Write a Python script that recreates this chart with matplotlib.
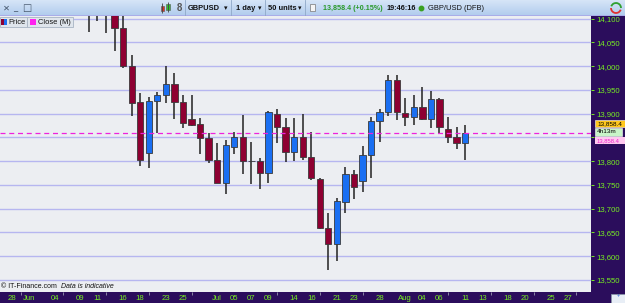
import numpy as np
import pandas as pd
import matplotlib
matplotlib.use('Agg')
import matplotlib.pyplot as plt
from matplotlib.patches import Rectangle, Arc
from matplotlib.ticker import FuncFormatter

plt.rcParams['font.family'] = ['Liberation Sans', 'DejaVu Sans']

# daily candles GBP/USD (DFB), price x10000
dates = ['2021-06-10', '2021-06-11', '2021-06-14', '2021-06-15', '2021-06-16', '2021-06-17',
         '2021-06-18', '2021-06-21', '2021-06-22', '2021-06-23', '2021-06-24', '2021-06-25',
         '2021-06-28', '2021-06-29', '2021-06-30', '2021-07-01', '2021-07-02', '2021-07-05',
         '2021-07-06', '2021-07-07', '2021-07-08', '2021-07-09', '2021-07-12', '2021-07-13',
         '2021-07-14', '2021-07-15', '2021-07-16', '2021-07-19', '2021-07-20', '2021-07-21',
         '2021-07-22', '2021-07-23', '2021-07-26', '2021-07-27', '2021-07-28', '2021-07-29',
         '2021-07-30', '2021-08-02', '2021-08-03', '2021-08-04', '2021-08-05', '2021-08-06',
         '2021-08-09', '2021-08-10', '2021-08-11']
opens = [14185, 14170, 14150, 14130, 14080, 14000, 13925, 13817, 13927, 13939, 13963, 13925,
         13889, 13878, 13849, 13802, 13754, 13830, 13851, 13801, 13800, 13775, 13899, 13872,
         13819, 13851, 13809, 13763, 13659, 13626, 13714, 13773, 13758, 13813, 13885, 13904,
         13971, 13902, 13893, 13914, 13889, 13931, 13868, 13851, 13838]
highs = [14200, 14190, 14175, 14140, 14112, 14024, 13944, 13935, 13946, 14000, 13986, 13939,
         13939, 13891, 13859, 13838, 13845, 13861, 13897, 13840, 13807, 13906, 13910, 13891,
         13891, 13900, 13862, 13765, 13691, 13723, 13788, 13782, 13832, 13893, 13910, 13982,
         13982, 13933, 13939, 13956, 13948, 13933, 13893, 13872, 13876]
lows = [14072, 14095, 14070, 14032, 13996, 13895, 13790, 13786, 13859, 13923, 13889, 13870,
        13874, 13815, 13796, 13754, 13731, 13815, 13773, 13752, 13742, 13754, 13839, 13798,
        13800, 13803, 13760, 13657, 13571, 13590, 13691, 13721, 13735, 13765, 13840, 13895,
        13887, 13874, 13876, 13887, 13870, 13859, 13838, 13826, 13803]
closes = [14175, 14150, 14135, 14080, 14000, 13923, 13803, 13927, 13939, 13963, 13925, 13880,
          13876, 13849, 13802, 13754, 13834, 13851, 13800, 13800, 13775, 13904, 13872, 13819,
          13851, 13809, 13765, 13659, 13626, 13716, 13773, 13746, 13813, 13885, 13904, 13971,
          13904, 13893, 13914, 13889, 13931, 13872, 13851, 13838, 13858.4]
last_close = 13858.4

tick_dates = ['2021-05-28', '2021-06-01', '2021-06-04', '2021-06-09', '2021-06-11', '2021-06-16',
              '2021-06-18', '2021-06-23', '2021-06-25', '2021-07-01', '2021-07-05', '2021-07-07',
              '2021-07-09', '2021-07-14', '2021-07-16', '2021-07-21', '2021-07-23', '2021-07-28',
              '2021-08-02', '2021-08-04', '2021-08-06', '2021-08-11', '2021-08-13', '2021-08-18',
              '2021-08-20', '2021-08-25', '2021-08-27']
tick_labels = ['28', 'Jun', '04', '09', '11', '16', '18', '23', '25', 'Jul', '05', '07', '09',
               '14', '16', '21', '23', '28', 'Aug', '04', '06', '11', '13', '18', '20', '25', '27']
y_ticks = np.arange(13550, 14101, 50)
hidden_tick = 13850  # covered by the last-price boxes

# colours
purple = '#2b0d5c'
green_txt = '#77ee22'
red_c = '#8e0032'
blue_c = '#1a6ff2'

# trading-day axis (weekends removed)
days = pd.bdate_range('2021-05-28', '2021-08-31')
pos = days.get_indexer(pd.to_datetime(dates))
tpos = days.get_indexer(pd.to_datetime(tick_dates))
mondays = [i for i, d in enumerate(days) if d.dayofweek == 0]

o = np.array(opens, float)
h = np.array(highs, float)
l = np.array(lows, float)
c = np.array(closes, float)
up = c >= o
cols = np.where(up, blue_c, red_c)

W, H = 625, 303
fig = plt.figure(figsize=(6.25, 3.03), dpi=100)
fig.patch.set_facecolor(purple)

# main chart
ax = fig.add_axes([0, 1 - 292 / H, 591 / W, 276 / H])
ax.set_facecolor('#eceef2')
for s in ax.spines.values():
    s.set_visible(False)
ax.set_xlim(-1.40, 67.72)
ax.set_ylim(13524.7, 14105.7)
for yv in y_ticks:
    ax.axhline(yv, color='#b6b6f0', lw=1.0, zorder=1)

ax.vlines(pos, l, h, color='#222222', lw=1.1, zorder=2)
ax.bar(pos, np.maximum(np.abs(c - o), 0.8), bottom=np.minimum(o, c), width=0.74,
       color=cols, edgecolor='#3a3a3a', linewidth=0.6, zorder=3)
ax.axhline(last_close, color='#ee22dd', lw=0.9, ls=(0, (4, 3)), zorder=4)

ax.yaxis.tick_right()
ax.set_yticks(y_ticks)
ax.yaxis.set_major_formatter(
    FuncFormatter(lambda v, p: '' if abs(v - hidden_tick) < 1 else f'{v:,.0f}'))
ax.tick_params(axis='y', colors=green_txt, labelcolor=green_txt, labelsize=5.6,
               length=2.5, width=0.7, pad=1.5)
ax.set_xticks(tpos)
ax.set_xticklabels(tick_labels)
ax.set_xticks(mondays, minor=True)
ax.tick_params(axis='x', which='major', colors=green_txt, labelcolor=green_txt,
               labelsize=5.6, length=0, pad=1.8)
ax.tick_params(axis='x', which='minor', colors='#9a9ab0', length=2, width=0.6)

ax.text(0.002, 0.008, '© IT-Finance.com', transform=ax.transAxes, fontsize=5,
        color='#111111', va='bottom', ha='left')
ax.text(0.103, 0.008, 'Data is indicative', transform=ax.transAxes, fontsize=5,
        style='italic', color='#111111', va='bottom', ha='left')

# toolbar
tb = fig.add_axes([0, 1 - 16 / H, 1, 16 / H])
grad = np.linspace(0, 1, 32).reshape(-1, 1)
tb.imshow(grad, cmap=matplotlib.colors.LinearSegmentedColormap.from_list(
    'tb', ['#d6e5f7', '#b0cbed']), aspect='auto', extent=[0, W, 16, 0])
tb.set_xlim(0, W)
tb.set_ylim(16, 0)
tb.axis('off')
tb.axhline(15.6, color='#a8a8e8', lw=1.2)
tb.text(6, 8, '✕', fontsize=6, color='#44556a', ha='center', va='center', family='DejaVu Sans')
tb.text(15, 8, '_', fontsize=6, color='#44556a', ha='center', va='center', family='DejaVu Sans')
tb.text(27, 8, '□', fontsize=7, color='#44556a', ha='center', va='center', family='DejaVu Sans')
tb.vlines([162, 168], [3, 1.5], [13, 12], color='#444444', lw=0.6)
tb.add_patch(Rectangle((160.5, 5.5), 3.5, 5.5, fc='#e03020', ec='#555555', lw=0.4))
tb.add_patch(Rectangle((166.2, 3.5), 3.5, 6.5, fc='#30c030', ec='#555555', lw=0.4))
tb.text(179.5, 8, '8', fontsize=7, color='#555555', ha='center', va='center', weight='bold')
for xs in [185, 231, 265, 305]:
    tb.axvline(xs, color='#8fa8c8', lw=0.6)
tb.text(188, 8, 'GBPUSD', fontsize=5.4, weight='bold', color='#111111', va='center')
tb.text(236, 8, '1 day', fontsize=5.4, weight='bold', color='#111111', va='center')
tb.text(268, 8, '50 units', fontsize=5.4, weight='bold', color='#111111', va='center')
for xa in [226, 260, 300]:
    tb.text(xa, 8, '▾', fontsize=5, color='#111111', ha='center', va='center',
            family='DejaVu Sans')
tb.add_patch(Rectangle((310, 4), 5, 7, fc='#f4f4f4', ec='#777777', lw=0.5))
tb.text(323, 8, '13,858.4 (+0.15%)', fontsize=5.1, weight='bold', color='#2a9a2a', va='center')
tb.text(386.5, 8, '19:46:16', fontsize=5.2, weight='bold', color='#111111', va='center')
tb.plot([421], [8], 'o', ms=3.2, color='#3aa020')
tb.text(428, 8, 'GBP/USD (DFB)', fontsize=5.4, color='#111111', va='center')
tb.add_patch(Arc((616, 8), 10, 10, theta1=20, theta2=180, color='#e03030', lw=1.3))
tb.add_patch(Arc((616, 8), 10, 10, theta1=200, theta2=360, color='#30a030', lw=1.3))

# overlay in pixel coordinates for legend and price labels
ov = fig.add_axes([0, 0, 1, 1], zorder=10)
ov.set_xlim(0, W)
ov.set_ylim(H, 0)
ov.axis('off')
ov.add_patch(Rectangle((0, 16.5), 27, 10.5, fc='#dfe5ec', ec='#a8b4c4', lw=0.6))
ov.add_patch(Rectangle((27, 16.5), 46, 10.5, fc='#dfe5ec', ec='#a8b4c4', lw=0.6))
ov.add_patch(Rectangle((1, 18.5), 3, 6, fc=red_c, ec='none'))
ov.add_patch(Rectangle((4, 18.5), 3, 6, fc=blue_c, ec='none'))
ov.add_patch(Rectangle((30, 18.5), 6, 6, fc='#ff22ee', ec='none'))
ov.text(8.5, 22, 'Price', fontsize=5.4, color='#111111', va='center')
ov.text(38, 22, 'Close (M)', fontsize=5.4, color='#111111', va='center')

ov.add_patch(Rectangle((595, 136.8), 30, 7.4, fc='#ffc8f0', ec='none'))
ov.text(597, 140.8, '13,858.4', fontsize=4.2, color='#ee22cc', va='center')
ov.add_patch(Rectangle((595, 119.8), 30, 7.6, fc='#ffc81e', ec='#ffffff', lw=0.4))
ov.text(597, 123.5, '13,858.4', fontsize=4.6, color='#000000', va='center')
ov.add_patch(Rectangle((595, 128.0), 27, 7.6, fc='#c8f5c8', ec='#ffffff', lw=0.4))
ov.text(597, 131.8, '4h13m', fontsize=4.6, color='#000000', va='center')
ov.add_patch(Rectangle((611, 294), 14, 9, fc='#e8eef6', ec='#8899aa', lw=0.5))
ov.text(618, 295.5, '+', fontsize=4, color='#2255cc', ha='center', va='center')

fig.savefig('out.png', dpi=100, facecolor=fig.get_facecolor())
